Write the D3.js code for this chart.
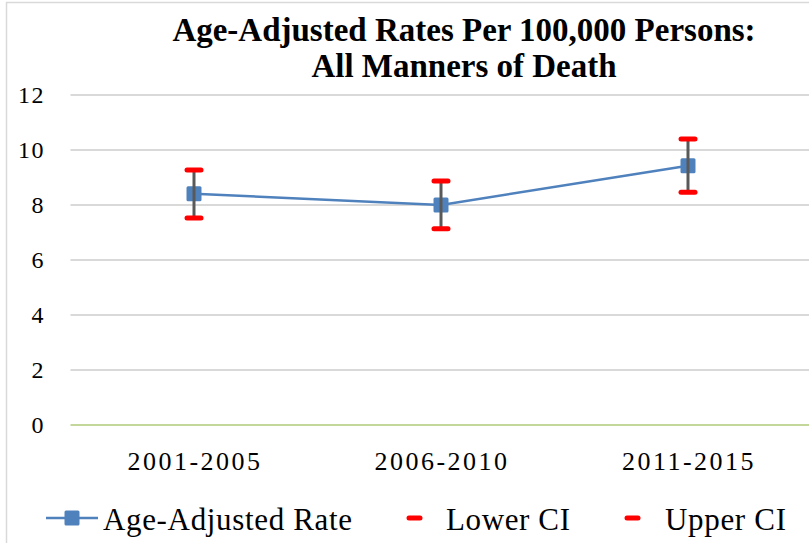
<!DOCTYPE html>
<html>
<head>
<meta charset="utf-8">
<script src="https://cdn.jsdelivr.net/npm/d3@7"></script>
<style>
  body { margin: 0; background: #fff; }
</style>
</head>
<body>
<script>
// chart values
const periods = ['2001-2005', '2006-2010', '2011-2015']
const rates = [8.41, 8.0, 9.43]
const lowerCI = [7.53, 7.14, 8.46]
const upperCI = [9.27, 8.87, 10.4]
const yTicks = [0, 2, 4, 6, 8, 10, 12]

const width = 809
const height = 543
const blue = '#4F81BD'
const serif = '"Liberation Serif", "Times New Roman", serif'

const svg = d3.select('body').append('svg').attr('width', width).attr('height', height)
	.style('font-family', serif)

// outer chart border
svg.append('rect')
	.attr('x', 6.5).attr('y', 2.5)
	.attr('width', width + 10).attr('height', height + 10)
	.attr('fill', 'none').attr('stroke', '#D9D9D9').attr('stroke-width', 1.5)

// scales
const x = d3.scaleBand().domain(periods).range([70.5, 811.5])
const y = d3.scaleLinear().domain([0, 12]).range([425, 95])

// gridlines
svg.selectAll('.grid')
	.data(yTicks.filter(d => d > 0))
	.enter()
	.append('line')
	.attr('x1', 70.5).attr('x2', width)
	.attr('y1', d => y(d)).attr('y2', d => y(d))
	.attr('stroke', '#D9D9D9').attr('stroke-width', 2)

// zero line
svg.append('line')
	.attr('x1', 70.5).attr('x2', width)
	.attr('y1', y(0)).attr('y2', y(0))
	.attr('stroke', '#C4D79B').attr('stroke-width', 2)

// y axis labels
const yAxis = svg.append('g').attr('transform', 'translate(45,0)')
	.call(d3.axisLeft(y).tickValues(yTicks).tickSize(0).tickPadding(0))
yAxis.select('.domain').remove()
yAxis.selectAll('text').style('font-family', serif).attr('font-size', 24)
	.attr('letter-spacing', 1.5).attr('fill', '#000').attr('dy', '0.32em')

// x axis labels
const xAxis = svg.append('g').attr('transform', 'translate(1,452)')
	.call(d3.axisBottom(x).tickSize(0).tickPadding(0))
xAxis.select('.domain').remove()
xAxis.selectAll('text').style('font-family', serif).attr('font-size', 26)
	.attr('letter-spacing', 2.5).attr('fill', '#000').attr('dy', '0.71em')

const cx = d => x(d) + x.bandwidth() / 2
const data = periods.map((p, i) => ({ p, rate: rates[i], lo: lowerCI[i], hi: upperCI[i] }))

// series line
svg.append('path')
	.datum(data)
	.attr('d', d3.line().x(d => cx(d.p)).y(d => y(d.rate)))
	.attr('fill', 'none').attr('stroke', blue).attr('stroke-width', 2.5)

// markers
svg.selectAll('.marker')
	.data(data)
	.enter()
	.append('rect')
	.attr('x', d => cx(d.p) - 7.5).attr('y', d => y(d.rate) - 7.5)
	.attr('width', 15).attr('height', 15)
	.attr('rx', 1.5)
	.attr('fill', blue)

// error bars
svg.selectAll('.err')
	.data(data)
	.enter()
	.append('line')
	.attr('x1', d => cx(d.p)).attr('x2', d => cx(d.p))
	.attr('y1', d => y(d.hi)).attr('y2', d => y(d.lo))
	.attr('stroke', '#595959').attr('stroke-width', 3)

// CI caps
const caps = data.flatMap(d => [{ p: d.p, v: d.lo }, { p: d.p, v: d.hi }])
svg.selectAll('.cap')
	.data(caps)
	.enter()
	.append('line')
	.attr('x1', d => cx(d.p) - 7).attr('x2', d => cx(d.p) + 7)
	.attr('y1', d => y(d.v)).attr('y2', d => y(d.v))
	.attr('stroke', '#FF0000').attr('stroke-width', 5).attr('stroke-linecap', 'round')

// title
const title = svg.append('text')
	.attr('text-anchor', 'middle')
	.attr('font-size', 33).attr('font-weight', 'bold')
title.append('tspan').attr('x', 464).attr('y', 41).text('Age-Adjusted Rates Per 100,000 Persons:')
title.append('tspan').attr('x', 464).attr('y', 77).text('All Manners of Death')

// legend
const ly = 518
const leg = svg.append('g')
leg.append('line').attr('x1', 46).attr('x2', 98).attr('y1', ly).attr('y2', ly)
	.attr('stroke', blue).attr('stroke-width', 2.5)
leg.append('rect').attr('x', 64.5).attr('y', ly - 7.5).attr('width', 15).attr('height', 15)
	.attr('rx', 1.5).attr('fill', blue)
leg.append('text').attr('x', 103).attr('y', 530).attr('font-size', 31)
	.attr('textLength', 249).text('Age-Adjusted Rate')

const ciLegend = [{ label: 'Lower CI', x: 409, tx: 446, w: 124 }, { label: 'Upper CI', x: 627, tx: 665, w: 121 }]
ciLegend.forEach(d => {
	leg.append('line').attr('x1', d.x).attr('x2', d.x + 11).attr('y1', ly).attr('y2', ly)
		.attr('stroke', '#FF0000').attr('stroke-width', 5).attr('stroke-linecap', 'round')
	leg.append('text').attr('x', d.tx).attr('y', 530).attr('font-size', 31)
		.attr('textLength', d.w).text(d.label)
})
</script>
</body>
</html>
